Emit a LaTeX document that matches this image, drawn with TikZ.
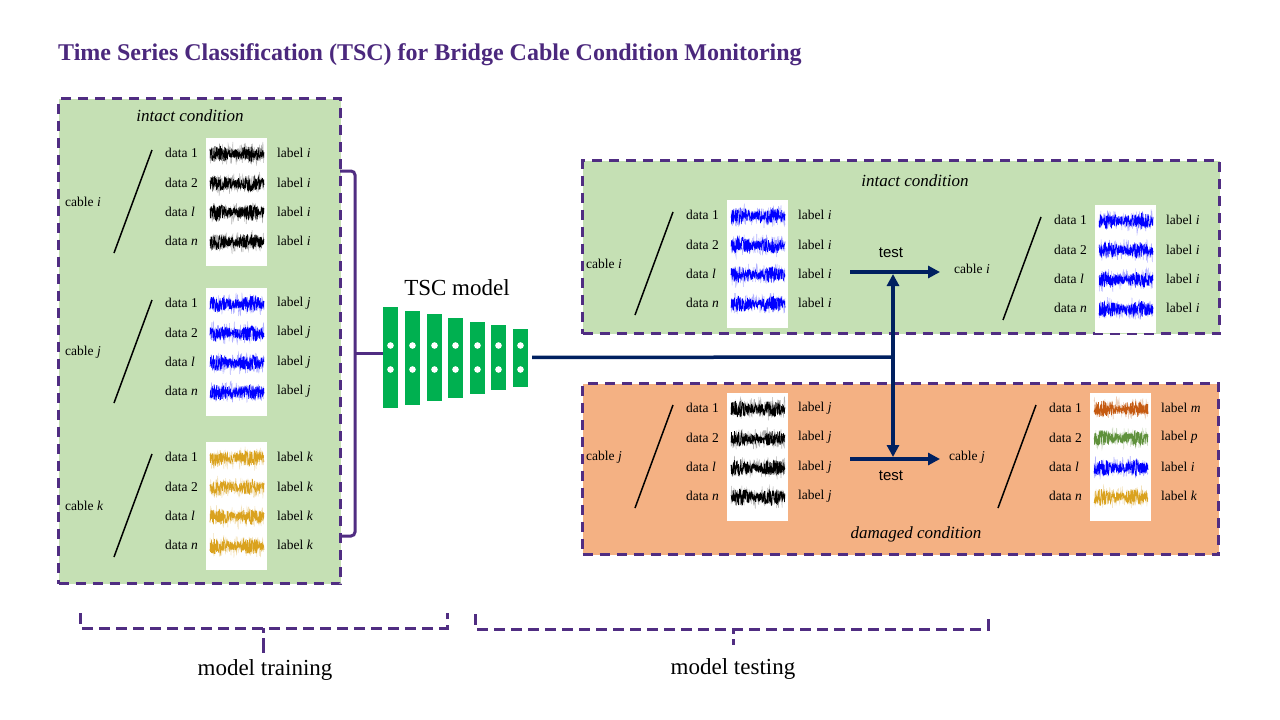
\documentclass[tikz,border=0pt]{standalone}
\usepackage{fontspec}
\setmainfont{Liberation Serif}
\newfontfamily\arialf{Liberation Sans}
\usetikzlibrary{arrows.meta}

\definecolor{pur}{RGB}{80,45,130}
\definecolor{ttl}{RGB}{75,40,125}
\definecolor{gfill}{RGB}{197,224,180}
\definecolor{ofill}{RGB}{244,177,131}
\definecolor{navy}{RGB}{0,32,96}
\definecolor{mgreen}{RGB}{0,176,80}
\definecolor{sblack}{RGB}{0,0,0}
\definecolor{sblue}{RGB}{0,0,255}
\definecolor{sgold}{RGB}{218,162,30}
\definecolor{sorange}{RGB}{197,90,17}
\definecolor{sgreen}{RGB}{95,145,60}

\tikzset{
  panelbox/.style={draw=pur, line width=3pt, dash pattern=on 10pt off 7pt, anchor=north west, inner sep=0pt},
  txt/.style={font=\fontsize{13.5}{16}\selectfont, inner sep=0pt, anchor=west},
  cond/.style={font=\fontsize{17}{20}\selectfont\itshape, inner sep=0pt},
  imgbox/.style={fill=white, draw=none, anchor=north west, inner sep=0pt, minimum width=61pt, minimum height=128pt},
  slash/.style={line width=1.5pt, black},
  block/.style={fill=mgreen, draw=none, minimum width=15pt, inner sep=0pt},
  navyline/.style={navy, line width=3.5pt},
  navyarrow/.style={navy, line width=3.5pt, -{Triangle[length=12pt,width=12pt]}},
  purline/.style={pur, line width=3pt},
  purdash/.style={pur, line width=3pt, dash pattern=on 11pt off 6pt},
  bigtxt/.style={font=\fontsize{23}{26}\selectfont, inner sep=0pt},
  testtxt/.style={font=\arialf\fontsize{15}{18}\selectfont, inner sep=0pt},
}

\newcommand{\wave}[3]{%
  \begin{scope}[shift={(#1,#2)}]
    \draw[#3, opacity=0.3, line width=0.5pt] plot[domain=0:54, samples=150] (\x,{rand*(9+4*rand)});
    \draw[#3, line width=0.6pt] plot[domain=0:54, samples=230] (\x,{rand*(6.5+1.8*sin(\x*11))});
  \end{scope}}

\newcommand{\cgroup}[5]{%
  \node[imgbox] (#1-img) at (#2+41,#3-15) {};
  \coordinate (#1-st) at (#2-13,#3-3);
  \coordinate (#1-sb) at (#2-51,#3+100);
  \draw[slash] (#1-st) -- (#1-sb);
  \node[txt] (#1-cable) at (#2-100,#3+49) {cable \textit{#4}};
  \foreach \r/\dd/\lab/\col in {#5}{
    \node[txt] (#1-d\r) at (#2,#3+29.4*\r) {data \dd};
    \node[txt] (#1-l\r) at (#2+112,#3+29.4*\r) {label \textit{\lab}};
    \wave{#2+45}{#3+1+29.4*\r}{\col}
  }
}

\begin{document}
\begin{tikzpicture}[x=1pt,y=-1pt]
\pgfmathsetseed{7}
\useasboundingbox (0,0) rectangle (1280,720);
\fill[white] (0,0) rectangle (1280,720);

% title
\node[anchor=west, inner sep=0pt, text=ttl, font=\fontsize{24}{27}\selectfont\bfseries] (title) at (58,55)
  {Time Series Classification (TSC) for Bridge Cable Condition Monitoring};

% panels
\node[panelbox, fill=gfill, minimum width=282pt, minimum height=485pt] (pleft) at (57,97) {};
\node[panelbox, fill=gfill, minimum width=637pt, minimum height=173pt] (ptop) at (581,159) {};
\node[panelbox, fill=ofill, minimum width=636pt, minimum height=171pt] (pbot) at (581,382) {};

\node[cond] (cL) at (190,116) {intact condition};
\node[cond] (cT) at (915,181) {intact condition};
\node[cond] (cB) at (916,534) {damaged condition};

% groups
\cgroup{L1}{165}{153}{i}{0/1/i/sblack, 1/2/i/sblack, 2/\textit{l}/i/sblack, 3/\textit{n}/i/sblack}
\cgroup{L2}{165}{303}{j}{0/1/j/sblue, 1/2/j/sblue, 2/\textit{l}/j/sblue, 3/\textit{n}/j/sblue}
\cgroup{L3}{165}{457}{k}{0/1/k/sgold, 1/2/k/sgold, 2/\textit{l}/k/sgold, 3/\textit{n}/k/sgold}
\cgroup{Ta}{686}{215}{i}{0/1/i/sblue, 1/2/i/sblue, 2/\textit{l}/i/sblue, 3/\textit{n}/i/sblue}
\cgroup{Tb}{1054}{220}{i}{0/1/i/sblue, 1/2/i/sblue, 2/\textit{l}/i/sblue, 3/\textit{n}/i/sblue}
\cgroup{Ba}{686}{408}{j}{0/1/j/sblack, 1/2/j/sblack, 2/\textit{l}/j/sblack, 3/\textit{n}/j/sblack}
\cgroup{Bb}{1049}{408}{j}{0/1/m/sorange, 1/2/p/sgreen, 2/\textit{l}/i/sblue, 3/\textit{n}/k/sgold}

% model
\node[bigtxt] (tsc) at (457,288) {TSC model};
\foreach \i/\xx/\h in {1/383/101pt, 2/405/94pt, 3/427/87pt, 4/448/80pt, 5/470/72pt, 6/491/65pt, 7/513/58pt}{
  \node[block, minimum height=\h] (b\i) at (\xx+7.5,357.5) {};
  \fill[white] (b\i.center) ++(0,-12) circle (3.3pt);
  \fill[white] (b\i.center) ++(0,12) circle (3.3pt);
}

% brace from training panel
\draw[purline, rounded corners=4pt] (340,171) -- (355,171) -- (355,536) -- (340,536);
\coordinate (btip) at (355,353);
\draw[purline] (btip) -- (btip -| b1.west);

% navy connectors
\coordinate (jn) at (893,357);
\draw[navyline, shorten <=4pt] (b7.east) -- (jn);
\coordinate (t1s) at (850,272);
\coordinate (t1e) at (940,272);
\coordinate (t2s) at (850,459);
\coordinate (t2e) at (940,459);
\draw[navyarrow] (t1s) -- (t1e);
\draw[navyarrow] (t2s) -- (t2e);
\draw[navyarrow] (jn) -- (893,274);
\draw[navyarrow] (jn) -- (893,457);
\node[testtxt] (test1) at (891,253) {test};
\node[testtxt] (test2) at (891,476) {test};

% bottom braces
\draw[purdash] (80,613) -- (80,628) -- (447,628) -- (447,613);
\draw[pur, line width=3pt, dash pattern=on 5pt off 5pt on 20pt] (263,628) -- (263,653);
\draw[purdash] (475,614) -- (475,629) -- (988,629) -- (988,614);
\draw[pur, line width=3pt, dash pattern=on 5pt off 5pt on 20pt] (733,629) -- (733,645);
\node[bigtxt] (mtrain) at (265,670) {model training};
\node[bigtxt] (mtest) at (733,669) {model testing};
\end{tikzpicture}
\end{document}
